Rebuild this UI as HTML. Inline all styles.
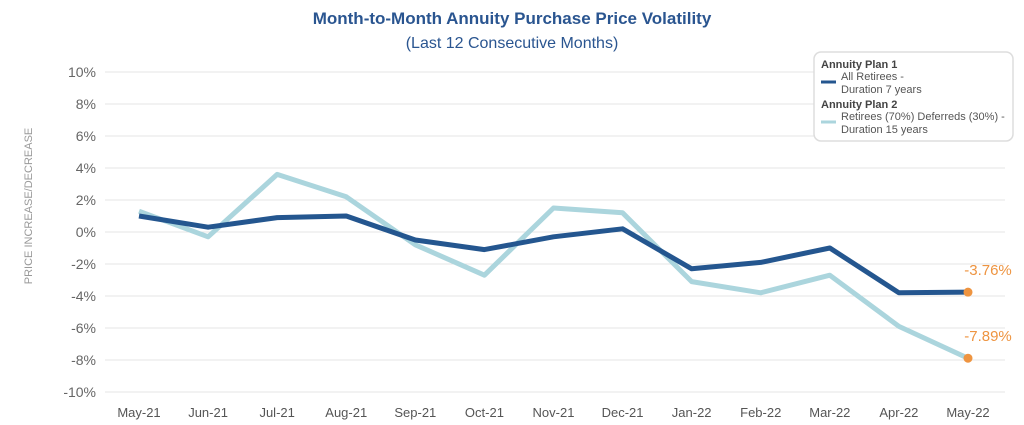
<!DOCTYPE html>
<html><head><meta charset="utf-8"><style>
body{margin:0;background:#fff;width:1024px;height:425px;overflow:hidden;font-family:"Liberation Sans",sans-serif}
svg{display:block}
</style></head><body>
<svg id="chart" width="1024" height="425">
<text x="512" y="24" text-anchor="middle" font-size="17" font-weight="bold" fill="#2a5590">Month-to-Month Annuity Purchase Price Volatility</text>
<text x="512" y="48" text-anchor="middle" font-size="16" fill="#2a5590">(Last 12 Consecutive Months)</text>
<text transform="translate(32,206) rotate(-90)" text-anchor="middle" font-size="11" fill="#999">PRICE INCREASE/DECREASE</text>
<g id="grid"></g><g id="series"></g>
<g>
<rect x="814" y="52" width="199" height="89" rx="7" fill="#fff" stroke="#ddd" stroke-width="1.5"/>
<text x="821" y="68" font-size="11" font-weight="bold" fill="#444">Annuity Plan 1</text>
<line x1="821" y1="82" x2="836" y2="82" stroke="#24568f" stroke-width="3"/>
<text x="841" y="80" font-size="11" fill="#555">All Retirees -</text>
<text x="841" y="93" font-size="11" fill="#555">Duration 7 years</text>
<text x="821" y="108" font-size="11" font-weight="bold" fill="#444">Annuity Plan 2</text>
<line x1="821" y1="122" x2="836" y2="122" stroke="#abd5dd" stroke-width="3"/>
<text x="841" y="120" font-size="11" fill="#555">Retirees (70%) Deferreds (30%) -</text>
<text x="841" y="133" font-size="11" fill="#555">Duration 15 years</text>
</g>
</svg>
<script>
const categories=["May-21","Jun-21","Jul-21","Aug-21","Sep-21","Oct-21","Nov-21","Dec-21","Jan-22","Feb-22","Mar-22","Apr-22","May-22"];
const plan1=[1.0,0.3,0.9,1.0,-0.5,-1.1,-0.3,0.2,-2.3,-1.9,-1.0,-3.8,-3.76];
const plan2=[1.3,-0.3,3.6,2.2,-0.8,-2.7,1.5,1.2,-3.1,-3.8,-2.7,-5.9,-7.89];
const yTicks=[10,8,6,4,2,0,-2,-4,-6,-8,-10];
const NS="http://www.w3.org/2000/svg";
const x=i=>139+i*(968-139)/(categories.length-1);
const y=v=>232-v*16;
const grid=document.getElementById('grid'),ser=document.getElementById('series');
function mk(tag,at,p){const e=document.createElementNS(NS,tag);for(const k in at)e.setAttribute(k,at[k]);p.appendChild(e);return e;}
yTicks.forEach(t=>{
  const l=mk('line',{x1:105,x2:1005,y1:y(t),y2:y(t),stroke:'#e6e6e6','stroke-width':1},grid);
  
  
  const tx=mk('text',{x:96,y:y(t)+5,'text-anchor':'end','font-size':14,fill:'#666'},grid);
  tx.textContent=t+'%';
  
  
});
categories.forEach((c,i)=>{
  const tx=mk('text',{x:x(i),y:417,'text-anchor':'middle','font-size':13,fill:'#555'},grid);
  tx.textContent=c;
  
  
});
function line(data,color,name){
  const p=mk('polyline',{points:data.map((v,i)=>x(i)+','+y(v)).join(' '),fill:'none',stroke:color,'stroke-width':5,'stroke-linejoin':'round'},ser);
  
  
  const n=data.length-1;
  const c=mk('circle',{cx:x(n),cy:y(data[n]),r:4.5,fill:'#ee9440'},ser);
  
  
  const t=mk('text',{x:x(n)+20,y:y(data[n])-17,'text-anchor':'middle','font-size':15,fill:'#ee9440'},ser);
  t.textContent=data[n].toFixed(2)+'%';
  
  
}
line(plan2,'#abd5dd','plan-2-line');
line(plan1,'#24568f','plan-1-line');
</script>
</body></html>
